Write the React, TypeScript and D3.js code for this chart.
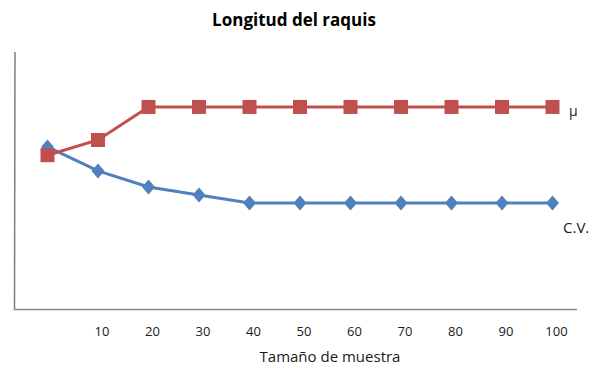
import React from "react";
import * as d3 from "d3";

const categories = ["", "10", "20", "30", "40", "50", "60", "70", "80", "90", "100"];
const muValues = [60, 65.9, 78.7, 78.7, 78.7, 78.7, 78.7, 78.7, 78.7, 78.7, 78.7];
const cvValues = [63.2, 53.9, 47.7, 44.6, 41.5, 41.5, 41.5, 41.5, 41.5, 41.5, 41.5];
const title = "Longitud del raquis";
const xTitle = "Tamaño de muestra";
const muLabel = "μ";
const cvLabel = "C.V.";

const W = 601;
const H = 368;
const RED = "#C0504D";
const BLUE = "#4F81BD";
const FONT = "'Open Sans', 'Liberation Sans', sans-serif";

export default function App() {
  const x = d3.scalePoint<string>().domain(categories.map((_, i) => String(i))).range([47.5, 552.5]);
  const y = d3.scaleLinear().domain([0, 100]).range([310, 52]);
  const line = d3
    .line<number>()
    .x((_, i) => x(String(i)) as number)
    .y((d) => y(d));
  const diamond = "M0,-7.5L6.5,0L0,7.5L-6.5,0Z";

  return (
    <svg
      width={W}
      height={H}
      style={{ position: "absolute", left: 0, top: 0, background: "#fff" }}
      fontFamily={FONT}
    >
      <text x={294} y={26} textAnchor="middle" fontSize={17} fontWeight="bold" fill="#000">
        {title}
      </text>
      {/* axes */}
      <line x1={15} y1={52} x2={14.5} y2={310} stroke="#7f7f7f" strokeWidth={1.5} />
      <line x1={14} y1={309.5} x2={577} y2={309.5} stroke="#8a8a8a" strokeWidth={1.5} />
      {categories.map((c, i) => (
        <text
          key={i}
          x={(x(String(i)) as number) + 4}
          y={336}
          textAnchor="middle"
          fontSize={13}
          fill="#1a1a1a"
        >
          {c}
        </text>
      ))}
      <text x={330} y={362} textAnchor="middle" fontSize={15} fill="#1a1a1a">
        {xTitle}
      </text>
      {/* blue C.V. */}
      <path d={line(cvValues) || ""} fill="none" stroke={BLUE} strokeWidth={3} />
      {cvValues.map((v, i) => (
        <path key={"c" + i} d={diamond} transform={`translate(${x(String(i))},${y(v)})`} fill={BLUE} />
      ))}
      {/* red mu */}
      <path d={line(muValues) || ""} fill="none" stroke={RED} strokeWidth={3} />
      {muValues.map((v, i) => (
        <rect
          key={"m" + i}
          x={(x(String(i)) as number) - 7}
          y={y(v) - 7}
          width={14}
          height={14}
          fill={RED}
        />
      ))}
      <text x={569} y={116} fontSize={14} fill="#1a1a1a">
        {muLabel}
      </text>
      <text x={563} y={233} fontSize={15} fill="#1a1a1a">
        {cvLabel}
      </text>
    </svg>
  );
}
